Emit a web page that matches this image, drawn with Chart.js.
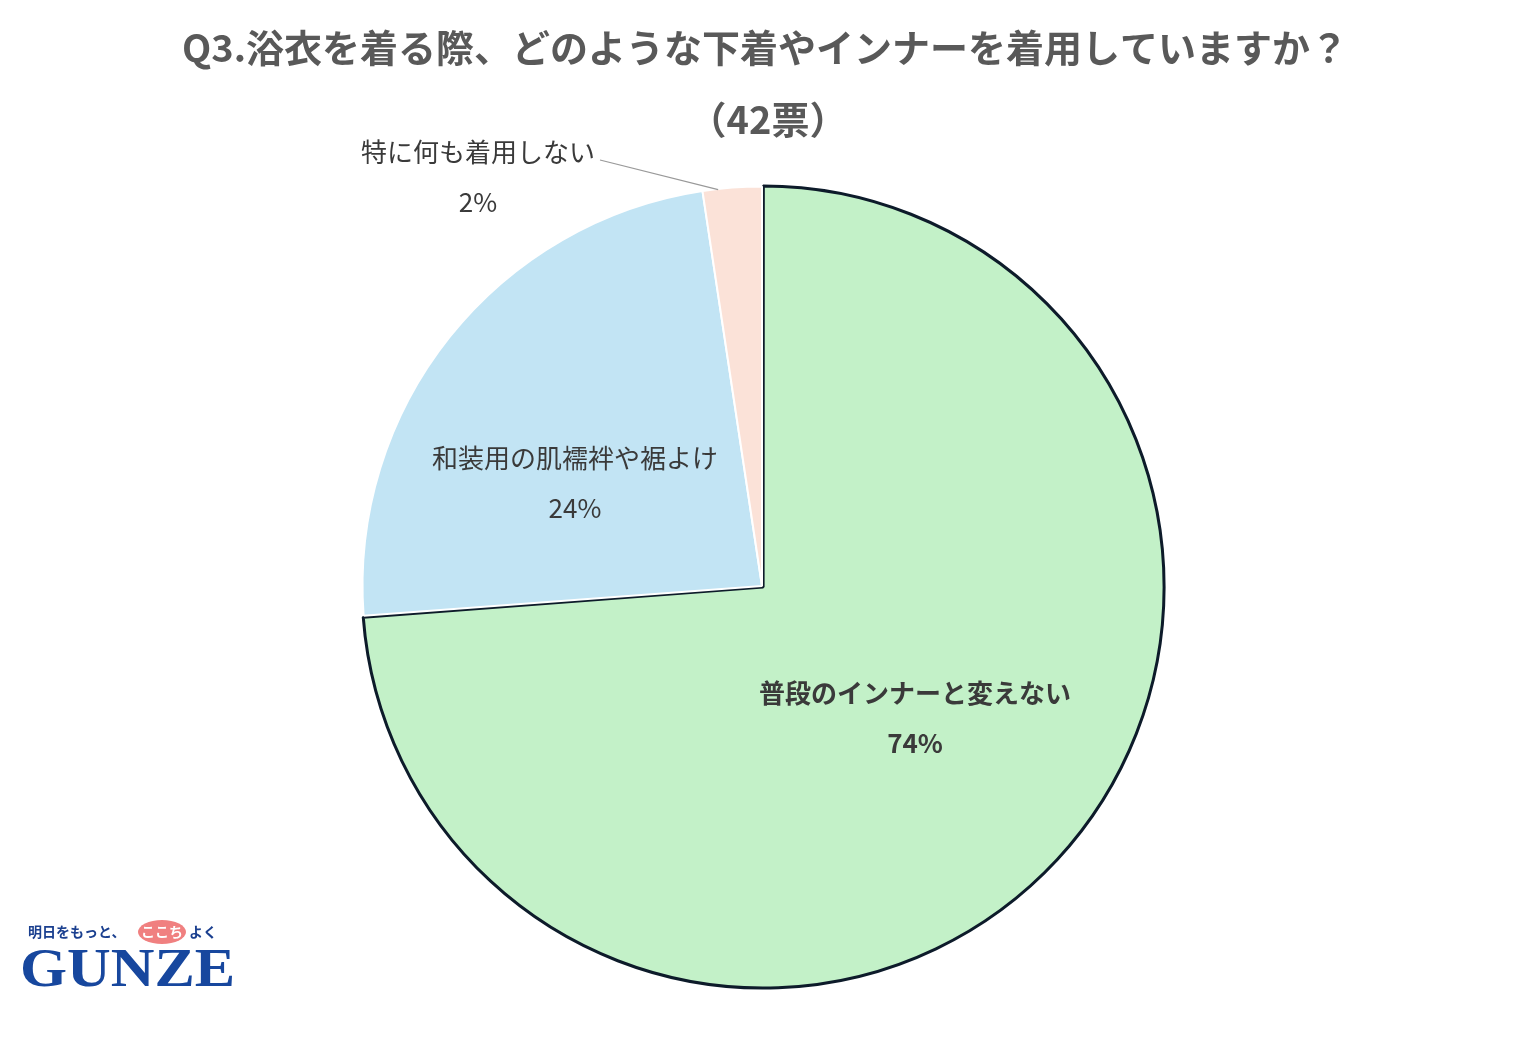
<!DOCTYPE html>
<html><head><meta charset="utf-8">
<script src="https://cdn.jsdelivr.net/npm/chart.js@4"></script>
<style>html,body{margin:0;background:#fff}#w{width:1536px;height:1043px;position:relative}</style>
</head><body><div id="w"><canvas id="c"></canvas></div>
<script>
const categories=['普段のインナーと変えない','和装用の肌襦袢や裾よけ','特に何も着用しない'];
const votes=[31,10,1];
const percentLabels=['74%','24%','2%'];
const colors=['#c3f1c8','#c2e4f4','#fbe2d8'];
const F='"Noto Sans CJK JP","Noto Sans",sans-serif';
const deco={id:'deco',afterDraw(ch){
 const x=ch.ctx;x.save();x.textAlign='center';x.textBaseline='middle';
 x.fillStyle='#595959';x.font='bold 38px '+F;
 x.fillText('Q3.浴衣を着る際、どのような下着やインナーを着用していますか？',765,48);
 x.fillText('（42票）',768,120);
 const arcs=ch.getDatasetMeta(0).data;
 const pos=[[915,718],[575,483]];
 arcs.forEach((a,i)=>{
  const m=(a.startAngle+a.endAngle)/2;
  if(i<2){
   const [px,py]=pos[i];
   x.fillStyle='#3a3a3a';x.font=(i==0?'bold ':'')+'26px '+F;
   x.fillText(categories[i],px,py-25);x.fillText(percentLabels[i],px,py+25);
  }else{
   const ex=a.x+a.outerRadius*Math.cos(m),ey=a.y+a.outerRadius*Math.sin(m);
   x.strokeStyle='#999';x.lineWidth=1.2;x.beginPath();x.moveTo(ex-14,ey+2);x.lineTo(600,160);x.stroke();
   x.fillStyle='#3a3a3a';x.font='26px '+F;
   x.fillText(categories[i],478,152);x.fillText(percentLabels[i],478,202);
  }
 });
 x.textAlign='left';x.fillStyle='#1a3f8f';x.font='bold 14px '+F;x.fillText('明日をもっと、',28,932);
 x.fillStyle='#f08080';x.beginPath();x.ellipse(162,932,24,12,0,0,7);x.fill();
 x.fillStyle='#fff';x.fillText('ここち',141,932);x.fillStyle='#1a3f8f';x.fillText('よく',189,932);
 x.font='bold 54px "Liberation Serif",serif';x.fillStyle='#17479e';
 x.save();x.translate(20,972);x.scale(1.12,1);x.fillText('GUNZE',0,0);x.restore();
 x.restore();}};
new Chart(document.getElementById('c'),{type:'pie',
 data:{labels:categories,datasets:[{data:votes,backgroundColor:colors,
  borderColor:['#0d1b2a','#ffffff','#ffffff'],borderWidth:[3,2,2],offset:[6,0,0]}]},
 options:{responsive:true,maintainAspectRatio:false,animation:false,rotation:0,
  layout:{padding:{left:358,right:370,top:182,bottom:53}},
  plugins:{legend:{display:false},tooltip:{enabled:false}}},
 plugins:[deco]});
</script></body></html>
